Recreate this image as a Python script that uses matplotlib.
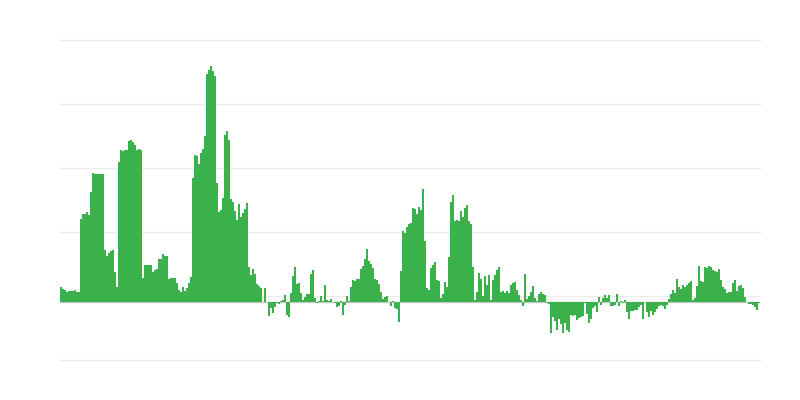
import numpy as np
import matplotlib
matplotlib.use('Agg')
import matplotlib.pyplot as plt

# daily change values (one per bar, left to right)
part_1 = [15, 13, 12, 10, 11, 11, 11, 12, 10, 10,
          83, 88, 88, 90, 87, 110,
          129, 128, 128, 128, 128, 128,
          52, 46, 49, 51, 52, 30, 15,
          140, 152, 151, 152, 152, 161, 162, 160, 157, 152, 153, 152,
          24, 37, 37, 37, 37,
          30, 32, 33, 43, 43, 48, 46, 46, 23, 24, 24, 24,
          19, 12, 10, 15]
part_2 = [11, 14, 19, 25, 124, 147, 146, 138, 149, 153, 166, 228, 232, 236, 231, 226,
          119, 90, 92, 104, 167, 171, 162, 103, 100, 91, 82, 98, 85, 89, 93, 99,
          35, 27, 33, 28, 18, 16, 14, 0, 14, 0, -14, -6, -11, -5, -1]
part_3 = [-2, 1, 2, 7, -13, -15, 9, 26, 35, 18, 19, 9, 2, 5, 8, 8, 28, 32, 4, -1,
          1, 6, 1, 17, 2, 1, 3, 0, -1, -5, -4, 1, -13, -3, 6, 1, 15, 22, 21, 23,
          23, 33, 36, 43, 53, 41, 38, 34, 23, 22, 18, 10, 3, 5, 6, 0, -4, 1, -6, -7, -20]
part_4 = [31, 71, 69, 75, 78, 79, 94, 93, 88, 95, 92, 113, 61, 14, 12, 34, 37, 40, 22, 21,
          4, 8, 20, 15, 45, 100, 107, 81, 82, 81, 91, 85, 94, 97, 81, 78, 35, 2, 10, 29,
          23, 6, 26, 17, 27, 2, 22, 27, 32, 35, 10, 11, 9, 11, 9, 17, 19, 20, 12, 7,
          2, -4, 28, 3, 6, 10, 16, 4, 1, 8, 10, 8, 7, -1, -2]
part_5 = [-31, -15, -19, -28, -17, -22, -31, -21, -28, -30, -13, -14, -13, -18, -16, -15, -14, -1, -12, -21,
          -17, -6, -4, -10, 5, -3, 4, 7, 4, 7, -4, -4, -3, 8, -4, 1, -1, 2, -10, -17,
          -9, -9, -8, -8, -5, -3, -17, 0, -10, -15, -9, -13, -10, -7, -4, -3, -4, -7, -3, 3,
          8, 12, 9, 23, 15, 13, 17, 15, 17, 19, 21, 2, 4, 16, 36, 21, 20, 35, 34, 36,
          35, 32, 31, 30, 33, 22, 15, 13, 9, 10, 10, 19, 22, 11, 16, 17, 14, 5, 0, -2,
          -2, -3, -5, -8, -1]

values = part_1 + part_2 + part_3 + part_4 + part_5
grid_levels = [-58, 6, 70, 134, 198, 262]

fig = plt.figure(figsize=(8, 4), dpi=100)
ax = fig.add_axes([0.075, 0.1, 0.875, 0.8])

x = np.arange(len(values))
ax.bar(x, values, width=1.1, color='#3ab14b', linewidth=0, zorder=3)
ax.axhline(0, color='#c8c8c8', lw=1, zorder=2)

ax.set_xlim(-0.5, len(values) - 0.5)
ax.set_ylim(grid_levels[0], grid_levels[-1])
ax.set_yticks(grid_levels)
ax.set_xticks([])
ax.yaxis.grid(True, color='#ebebeb', lw=1, zorder=0)
for gl in ax.get_ygridlines():
    gl.set_clip_on(False)
ax.tick_params(left=False, labelleft=False)
for s in ax.spines.values():
    s.set_visible(False)

fig.savefig('out.png', dpi=100)
